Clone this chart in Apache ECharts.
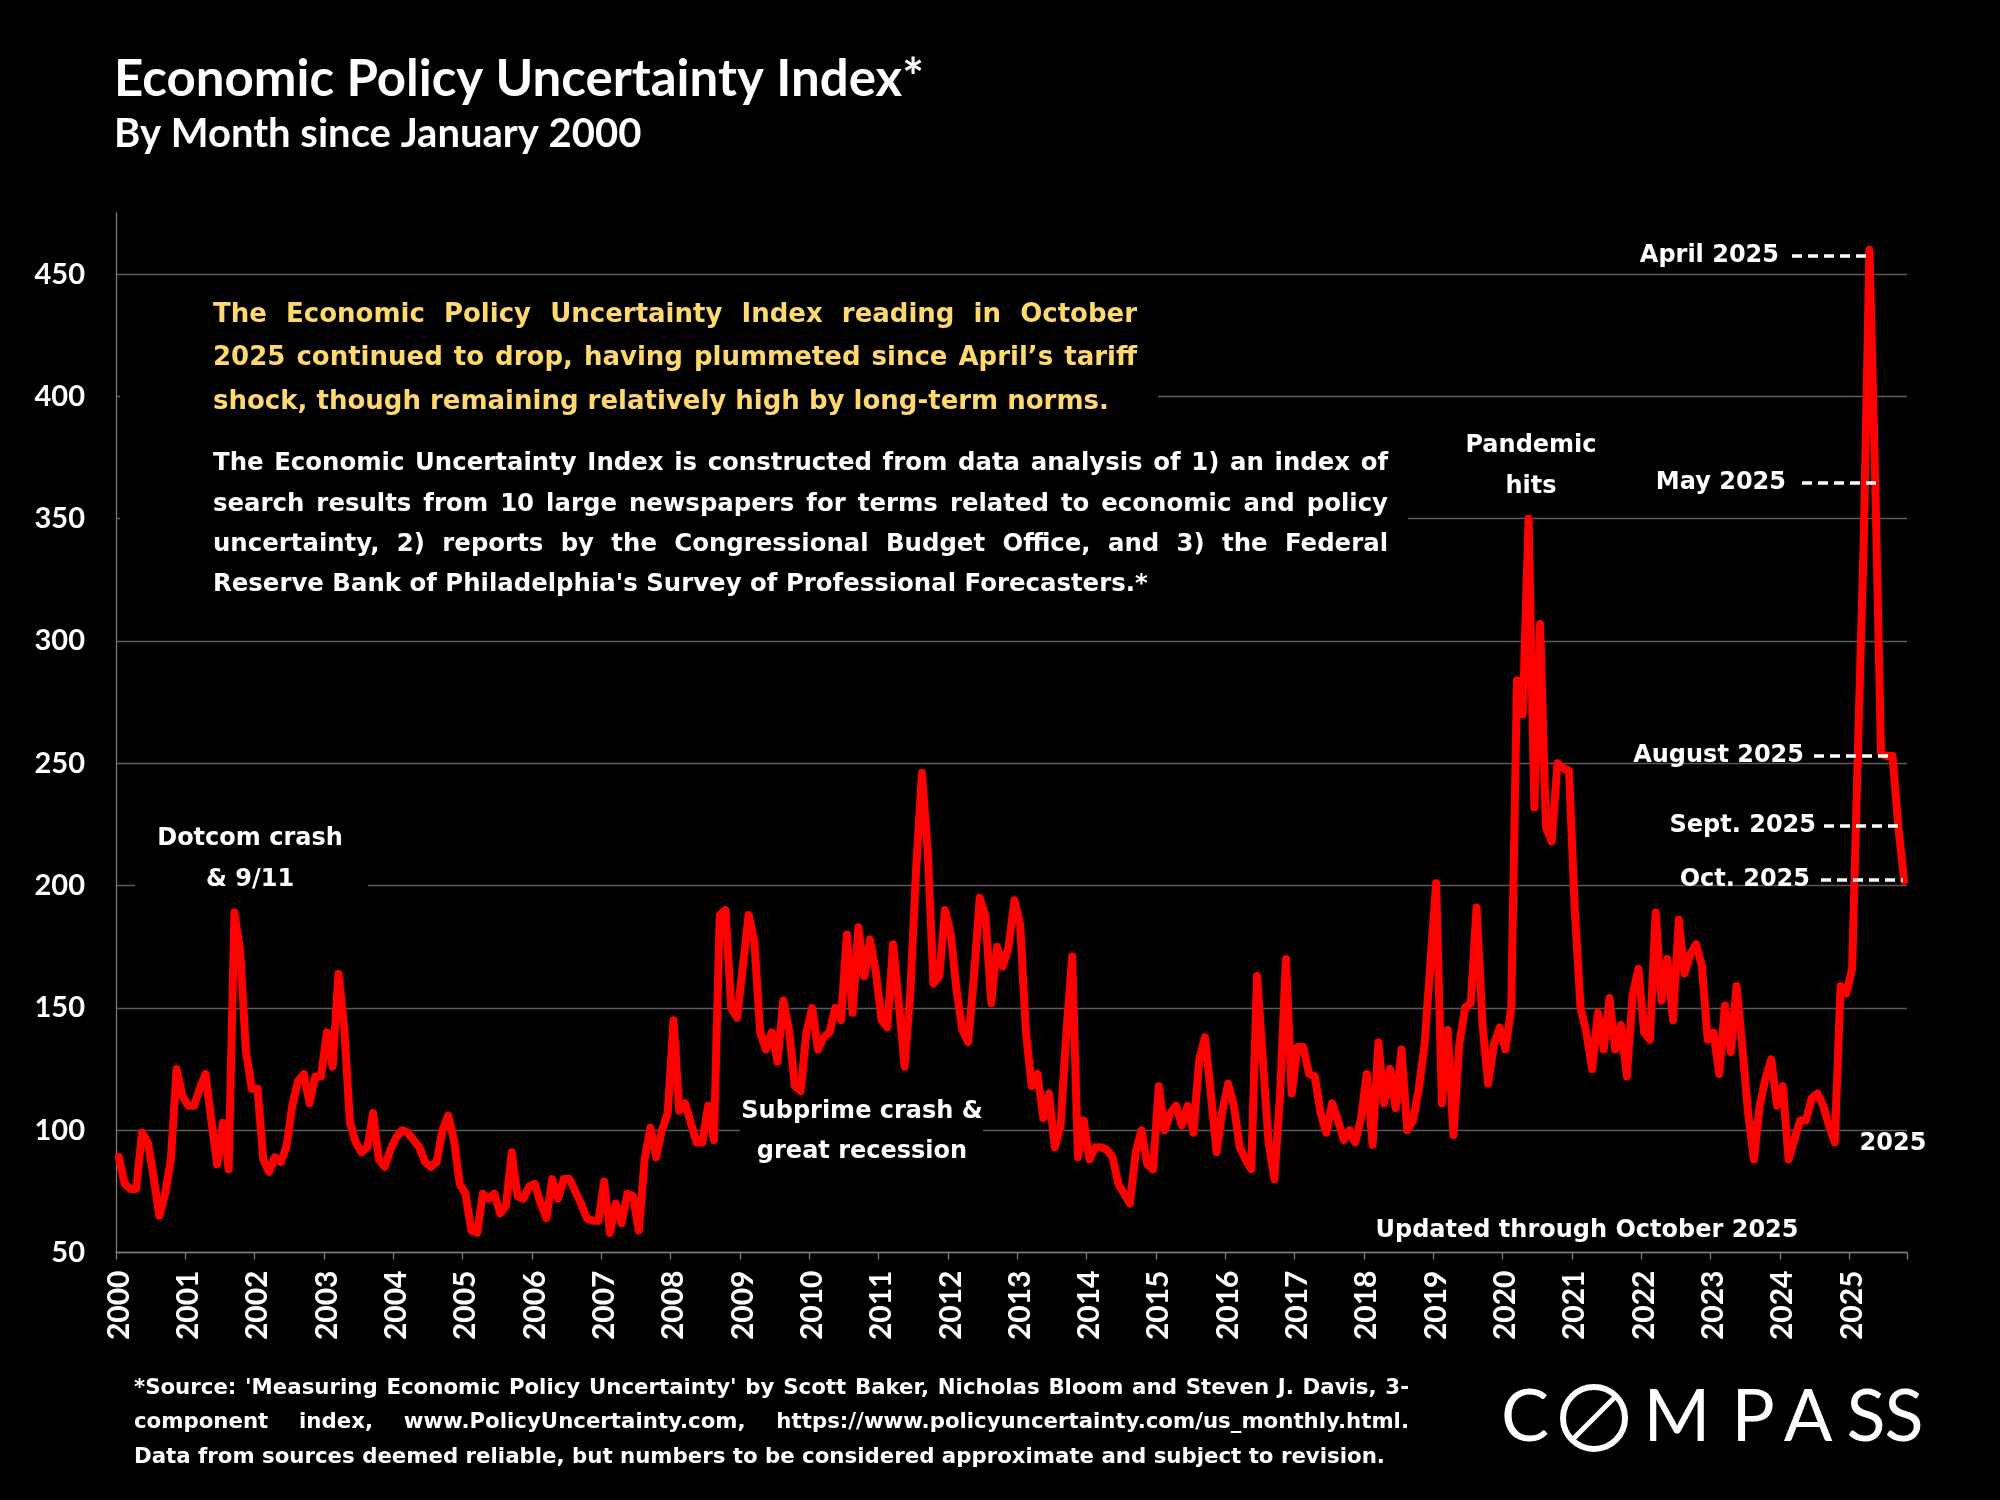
<!DOCTYPE html>
<html><head><meta charset="utf-8">
<script src="https://cdn.jsdelivr.net/npm/echarts@6/dist/echarts.min.js"></script>
<style>html,body{margin:0;padding:0;background:#000;}#c{width:2000px;height:1500px;}</style>
</head><body><div id="c"></div>
<script>
// ---- Data (Economic Policy Uncertainty Index, 3-component, monthly) ----
const v2000 = [89, 78, 76, 76, 99, 95, 81, 65, 74, 88, 125, 114];
const v2001 = [110, 110, 117, 123, 104, 86, 103, 84, 189, 173, 132, 117];
const v2002 = [117, 88, 83, 89, 87, 93, 110, 120, 123, 111, 122, 122];
const v2003 = [140, 126, 164, 142, 103, 95, 91, 93, 107, 88, 85, 92];
const v2004 = [97, 100, 99, 96, 93, 87, 85, 87, 100, 106, 96, 78];
const v2005 = [74, 59, 58, 74, 72, 74, 66, 69, 91, 73, 72, 77];
const v2006 = [78, 70, 64, 80, 72, 80, 80, 75, 70, 64, 63, 63];
const v2007 = [79, 58, 70, 62, 74, 73, 59, 88, 101, 89, 100, 107];
const v2008 = [145, 108, 111, 103, 95, 95, 110, 96, 188, 190, 150, 146];
const v2009 = [167, 188, 177, 140, 133, 140, 128, 153, 141, 118, 116, 140];
const v2010 = [150, 133, 138, 140, 150, 145, 180, 148, 183, 163, 178, 165];
const v2011 = [145, 142, 176, 152, 126, 157, 207, 246, 214, 160, 163, 190];
const v2012 = [180, 157, 141, 136, 163, 195, 187, 152, 175, 167, 175, 194];
const v2013 = [184, 140, 118, 123, 105, 115, 93, 102, 140, 171, 89, 104];
const v2014 = [88, 93, 93, 92, 89, 78, 74, 70, 91, 100, 86, 84];
const v2015 = [118, 100, 107, 110, 102, 110, 99, 129, 138, 115, 91, 108];
const v2016 = [119, 110, 93, 88, 84, 163, 129, 95, 80, 115, 170, 115];
const v2017 = [134, 134, 123, 122, 107, 99, 111, 104, 96, 100, 95, 105];
const v2018 = [123, 94, 136, 111, 125, 109, 133, 100, 104, 117, 135, 168];
const v2019 = [201, 111, 141, 98, 135, 150, 152, 191, 144, 119, 135, 142];
const v2020 = [133, 150, 284, 270, 350, 232, 307, 224, 218, 250, 248, 247];
const v2021 = [190, 150, 140, 125, 148, 133, 154, 133, 143, 122, 155, 166];
const v2022 = [140, 137, 189, 153, 170, 145, 186, 164, 172, 176, 167, 137];
const v2023 = [140, 123, 151, 132, 159, 134, 107, 88, 110, 121, 129, 110];
const v2024 = [118, 88, 96, 104, 104, 113, 115, 110, 102, 95, 159, 156];
const v2025 = [166, 255, 340, 460, 366, 254, 253, 253, 224, 202];

const yearLabels = ['2000','2001','2002','2003','2004','2005','2006','2007','2008','2009','2010','2011','2012',
  '2013','2014','2015','2016','2017','2018','2019','2020','2021','2022','2023','2024','2025'];
const yearSeries = [v2000,v2001,v2002,v2003,v2004,v2005,v2006,v2007,v2008,v2009,v2010,v2011,v2012,
  v2013,v2014,v2015,v2016,v2017,v2018,v2019,v2020,v2021,v2022,v2023,v2024,v2025];

const categories = [];
const values = [];
yearSeries.forEach((arr, yi) => {
  arr.forEach((v, mi) => {
    categories.push(yearLabels[yi] + '-' + String(mi + 1).padStart(2, '0'));
    values.push(v);
  });
});

// ---- Text helpers ----
const mctx = document.createElement('canvas').getContext('2d');
const VERD = '"DejaVu Sans", Verdana, sans-serif';
function textEl(text, x, y, font, fill, align, z) {
  return { type: 'text', x: x, y: y, z: z || 1, silent: true,
    style: { text: text, font: font, fill: fill, textAlign: align || 'left', textVerticalAlign: 'middle' } };
}
function lineEls(text, x0, x1, y, font, fill, justify) {
  if (!justify) return [textEl(text, x0, y, font, fill, 'left')];
  mctx.font = font;
  const words = text.split(' ');
  const widths = words.map(w => mctx.measureText(w).width);
  const total = widths.reduce((a, b) => a + b, 0);
  const gap = (x1 - x0 - total) / (words.length - 1);
  const out = [];
  let x = x0;
  words.forEach((w, i) => { out.push(textEl(w, x, y, font, fill, 'left')); x += widths[i] + gap; });
  return out;
}

const graphics = [];
// background boxes that mask gridlines
[[120, 288, 1038, 140], [120, 440, 1288, 170], [135, 815, 233, 88], [740, 1097, 243, 78]].forEach(r => {
  graphics.push({ type: 'rect', z: 1, silent: true, shape: { x: r[0], y: r[1], width: r[2], height: r[3] }, style: { fill: '#000' } });
});

// Title
graphics.push(textEl('Economic Policy Uncertainty Index*', 114, 80, 'bold 51px Lato', '#fff', 'left'));
graphics.push(textEl('By Month since January 2000', 114, 134, 'bold 40px Lato', '#fff', 'left'));

// Yellow paragraph
const yellowFont = 'bold 26px ' + VERD;
const yellow = '#FFD86E';
const yLines = ['The Economic Policy Uncertainty Index reading in October',
  '2025 continued to drop, having plummeted since April\u2019s tariff',
  'shock, though remaining relatively high by long-term norms.'];
[315, 358, 402].forEach((yy, i) => graphics.push(...lineEls(yLines[i], 213, 1137, yy, yellowFont, yellow, i < 2)));

// White paragraph
const whiteFont = 'bold 24.4px ' + VERD;
const wLines = ['The Economic Uncertainty Index is constructed from data analysis of 1) an index of',
  'search results from 10 large newspapers for terms related to economic and policy',
  'uncertainty, 2) reports by the Congressional Budget Office, and 3) the Federal',
  "Reserve Bank of Philadelphia's Survey of Professional Forecasters.*"];
[464, 505, 545, 585].forEach((yy, i) => graphics.push(...lineEls(wLines[i], 213, 1388, yy, whiteFont, '#fff', i < 3)));

// Footer
const footFont = 'bold 21.3px ' + VERD;
const fLines = ["*Source: 'Measuring Economic Policy Uncertainty' by Scott Baker, Nicholas Bloom and Steven J. Davis, 3-",
  'component index, www.PolicyUncertainty.com, https://www.policyuncertainty.com/us_monthly.html.',
  'Data from sources deemed reliable, but numbers to be considered approximate and subject to revision.'];
[1388, 1422, 1457].forEach((yy, i) => graphics.push(...lineEls(fLines[i], 134, 1409, yy, footFont, '#fff', i < 2)));

// Event annotations
const annFont = 'bold 24px ' + VERD;
graphics.push(textEl('Dotcom crash', 250, 839, annFont, '#fff', 'center'));
graphics.push(textEl('& 9/11', 250, 880, annFont, '#fff', 'center'));
graphics.push(textEl('Subprime crash &', 862, 1112, annFont, '#fff', 'center'));
graphics.push(textEl('great recession', 862, 1152, annFont, '#fff', 'center'));
graphics.push(textEl('Pandemic', 1531, 446, annFont, '#fff', 'center'));
graphics.push(textEl('hits', 1531, 487, annFont, '#fff', 'center'));
graphics.push(textEl('2025', 1893, 1144, annFont, '#fff', 'center'));
graphics.push(textEl('Updated through October 2025', 1587, 1231, annFont, '#fff', 'center'));

// 2025 month callouts with dashed leaders
const callouts = [
  ['April 2025', 1779, 256, 1792, 1871],
  ['May 2025', 1786, 483, 1802, 1881],
  ['August 2025', 1804, 756, 1814, 1894],
  ['Sept. 2025', 1816, 826, 1824, 1903],
  ['Oct. 2025', 1810, 880, 1821, 1903]
];
callouts.forEach(c => {
  graphics.push(textEl(c[0], c[1], c[2], annFont, '#fff', 'right', 3));
  graphics.push({ type: 'line', z: 3, silent: true, shape: { x1: c[3], y1: c[2], x2: c[4], y2: c[2] },
    style: { stroke: '#fff', lineWidth: 3.5, lineDash: [10, 6] } });
});

// COMPASS logo
const logoFont = 'normal 72px Lato';
const logoY = 1418;
[['C', 1525], ['M', 1677], ['P', 1753], ['A', 1808], ['S', 1866], ['S', 1904]].forEach(l => {
  graphics.push(textEl(l[0], l[1], logoY, logoFont, '#fff', 'center'));
});
const ocx = 1594, ocy = 1418, orr = 31;
graphics.push({ type: 'circle', z: 1, silent: true, shape: { cx: ocx, cy: ocy, r: orr }, style: { fill: 'transparent', stroke: '#fff', lineWidth: 6 } });
graphics.push({ type: 'line', z: 1, silent: true, shape: { x1: ocx - orr * 0.7, y1: ocy + orr * 0.7, x2: ocx + orr * 0.7, y2: ocy - orr * 0.7 }, style: { stroke: '#fff', lineWidth: 5 } });

const chart = echarts.init(document.getElementById('c'));
const janOnly = (idx) => idx % 12 === 0;
chart.setOption({
  backgroundColor: '#000',
  animation: false,
  grid: { left: 116, right: 93, top: 213, bottom: 247.5, containLabel: false },
  xAxis: {
    type: 'category',
    data: categories,
    boundaryGap: true,
    axisLine: { show: true, lineStyle: { color: '#7a7a7a', width: 1.3 } },
    axisTick: { show: true, interval: janOnly, alignWithLabel: false, length: 7, lineStyle: { color: '#7a7a7a', width: 1.3 } },
    axisLabel: {
      interval: janOnly, rotate: 90, margin: 18,
      formatter: (v) => v.slice(0, 4),
      color: '#fff', fontFamily: 'Lato', fontWeight: 'bold', fontSize: 30
    },
    splitLine: { show: false }
  },
  yAxis: {
    type: 'value', min: 50, max: 475, interval: 50,
    axisLine: { show: true, lineStyle: { color: '#7a7a7a', width: 1.3 } },
    axisTick: { show: false },
    axisLabel: { showMaxLabel: false, color: '#fff', fontFamily: 'Lato', fontWeight: 'bold', fontSize: 29, margin: 31 },
    splitLine: { show: true, showMaxLine: false, lineStyle: { color: '#5a5a5a', width: 1.3 } }
  },
  series: [{
    type: 'line', data: values, showSymbol: false, z: 2,
    lineStyle: { color: '#ff0000', width: 8, join: 'round', cap: 'round' }
  }],
  graphic: { elements: graphics }
});
</script></body></html>
